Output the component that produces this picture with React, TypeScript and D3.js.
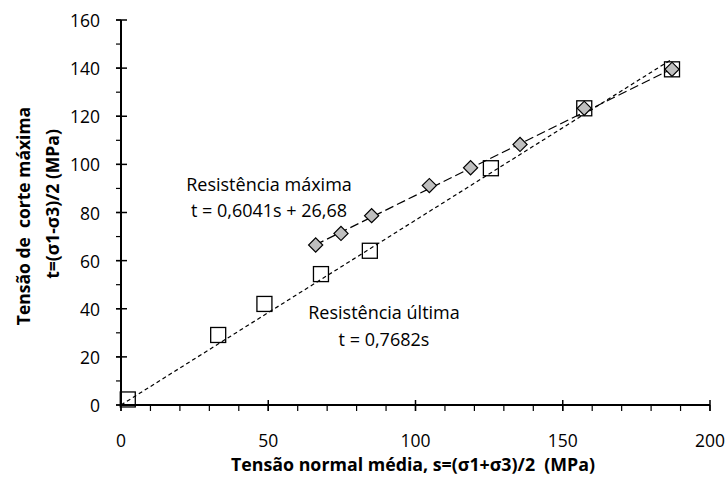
import React, { useEffect, useRef } from "react";
import * as d3 from "d3";

// Resistência última (squares)
const ultS = [2.3, 33.0, 48.7, 67.9, 84.5, 125.6, 157.3, 187.1];
const ultT = [2.3, 29.1, 42.0, 54.4, 64.1, 98.4, 123.3, 139.5];

// Resistência máxima (diamonds)
const maxS = [66.1, 74.7, 85.1, 104.7, 118.7, 135.5, 157.3, 187.1];
const maxT = [66.5, 71.3, 78.7, 91.2, 98.6, 108.3, 123.3, 139.5];

// fitted lines
const ultSlope = 0.7682;
const ultRange = [0, 187];
const maxSlope = 0.6041;
const maxIntercept = 26.68;
const maxRange = [66, 187];

const xTicks = [0, 50, 100, 150, 200];
const yTicks = [0, 20, 40, 60, 80, 100, 120, 140, 160];

const FONT = "'Open Sans', 'Noto Sans', sans-serif";

export default function App() {
  const svgRef = useRef<SVGSVGElement>(null);
  const width = 728;
  const height = 477;

  useEffect(() => {
    const svg = d3.select(svgRef.current);
    svg.selectAll("*").remove();

    const x = d3.scaleLinear().domain([0, 200]).range([121, 710]);
    const y = d3.scaleLinear().domain([0, 160]).range([405, 20]);

    const g = svg.append("g");

    // minor ticks
    d3.range(0, 201, 10).forEach((v) => {
      g.append("line")
        .attr("x1", x(v)).attr("x2", x(v))
        .attr("y1", y(0)).attr("y2", y(0) + 6)
        .attr("stroke", "#000").attr("stroke-width", 1.2);
    });
    d3.range(0, 161, 10).forEach((v) => {
      g.append("line")
        .attr("x1", x(0) - 5).attr("x2", x(0))
        .attr("y1", y(v)).attr("y2", y(v))
        .attr("stroke", "#000").attr("stroke-width", 1.2);
    });
    // major ticks (crossing)
    xTicks.forEach((v) => {
      g.append("line")
        .attr("x1", x(v)).attr("x2", x(v))
        .attr("y1", y(0) - 5).attr("y2", y(0) + 6)
        .attr("stroke", "#000").attr("stroke-width", 1.5);
      g.append("text")
        .attr("x", x(v)).attr("y", 440)
        .attr("text-anchor", "middle").attr("dominant-baseline", "central")
        .attr("font-family", FONT).attr("font-size", 17.5)
        .text(v);
    });
    yTicks.forEach((v) => {
      g.append("line")
        .attr("x1", x(0) - 5).attr("x2", x(0) + 6)
        .attr("y1", y(v)).attr("y2", y(v))
        .attr("stroke", "#000").attr("stroke-width", 1.5);
      g.append("text")
        .attr("x", 100).attr("y", y(v))
        .attr("text-anchor", "end").attr("dominant-baseline", "central")
        .attr("font-family", FONT).attr("font-size", 17.5)
        .text(v);
    });

    // axes lines
    g.append("line")
      .attr("x1", x(0)).attr("x2", x(200)).attr("y1", y(0)).attr("y2", y(0))
      .attr("stroke", "#000").attr("stroke-width", 2);
    g.append("line")
      .attr("x1", x(0)).attr("x2", x(0)).attr("y1", y(0)).attr("y2", y(160))
      .attr("stroke", "#000").attr("stroke-width", 2);

    // trend lines
    const line = d3.line<number[]>().x((d) => x(d[0])).y((d) => y(d[1]));
    g.append("path")
      .attr("d", line(ultRange.map((s) => [s, ultSlope * s])))
      .attr("fill", "none").attr("stroke", "#000").attr("stroke-width", 1.2)
      .attr("stroke-dasharray", "4,3");
    g.append("path")
      .attr("d", line(maxRange.map((s) => [s, maxSlope * s + maxIntercept])))
      .attr("fill", "none").attr("stroke", "#000").attr("stroke-width", 1.2)
      .attr("stroke-dasharray", "9,4");

    // squares
    ultS.forEach((s, i) => {
      g.append("rect")
        .attr("x", x(s) - 7.5).attr("y", y(ultT[i]) - 7.5)
        .attr("width", 15).attr("height", 15)
        .attr("fill", "none")
        .attr("stroke", "#000").attr("stroke-width", 1.3);
    });
    // diamonds
    maxS.forEach((s, i) => {
      g.append("path")
        .attr("d", d3.symbol().type(d3.symbolSquare).size(100)())
        .attr("transform", `translate(${x(s)},${y(maxT[i])}) rotate(45)`)
        .attr("fill", "#bfbfbf")
        .attr("stroke", "#000").attr("stroke-width", 1.2);
    });

    // annotations
    const ann = (tx: number, ty: number, txt: string) =>
      g.append("text")
        .attr("x", tx).attr("y", ty)
        .attr("text-anchor", "middle").attr("dominant-baseline", "central")
        .attr("font-family", FONT).attr("font-size", 18)
        .text(txt);
    ann(269, 184, "Resistência máxima");
    ann(269, 210, "t = 0,6041s + 26,68");
    ann(384, 312, "Resistência última");
    ann(384, 339, "t = 0,7682s");

    // axis titles
    g.append("text")
      .attr("x", 413).attr("y", 464)
      .attr("text-anchor", "middle").attr("dominant-baseline", "central")
      .attr("font-family", FONT).attr("font-size", 17.8).attr("font-weight", "bold")
      .attr("xml:space", "preserve")
      .text("Tensão normal média, s=(σ1+σ3)/2  (MPa)");

    const yt = g.append("g").attr("transform", "translate(23,216) rotate(-90)");
    yt.append("text")
      .attr("x", 0).attr("y", 0)
      .attr("text-anchor", "middle").attr("dominant-baseline", "central")
      .attr("font-family", FONT).attr("font-size", 17.5).attr("font-weight", "bold")
      .attr("xml:space", "preserve")
      .text("Tensão de  corte máxima");
    yt.append("text")
      .attr("x", 12).attr("y", 29)
      .attr("text-anchor", "middle").attr("dominant-baseline", "central")
      .attr("font-family", FONT).attr("font-size", 17.5).attr("font-weight", "bold")
      .text("t=(σ1-σ3)/2 (MPa)");
  }, []);

  return (
    <svg
      ref={svgRef}
      width={width}
      height={height}
      style={{ position: "absolute", left: 0, top: 0, background: "#fff" }}
    ></svg>
  );
}
